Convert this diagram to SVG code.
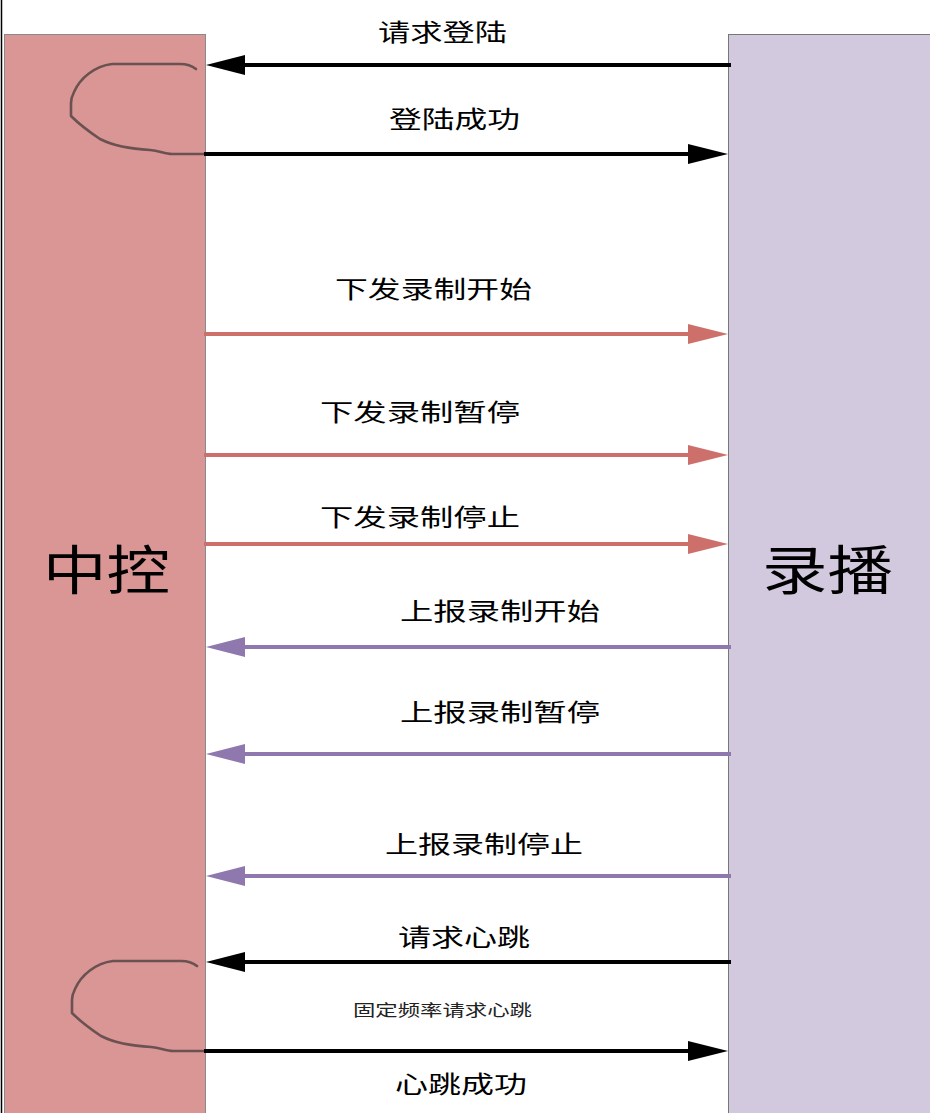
<svg xmlns="http://www.w3.org/2000/svg" width="930" height="1113" viewBox="0 0 930 1113">
<style>
.lbl{font-family:"Noto Sans CJK SC","Liberation Sans",sans-serif;font-size:24px;fill:#000}
.sm{font-family:"Noto Sans CJK SC","Liberation Sans",sans-serif;font-size:16px;fill:#222}
.big{font-family:"Noto Sans CJK SC","Liberation Sans",sans-serif;font-size:53px;fill:#000}
.blk{stroke:#000;stroke-width:4;fill:none}
.pnk{stroke:#cd706b;stroke-width:4;fill:none}
.pur{stroke:#8e78ae;stroke-width:4;fill:none}
.loop{stroke:#6b5252;stroke-width:2.6;fill:none;stroke-linejoin:round;stroke-linecap:round}
</style>
<defs>
<path id="loopPath" d="M196,69 C191,65 186,64 180,64 L112,64 C95,66 80,78 74,92 C72,96 71,99 71,103 L71,116 C78,123 88,131 100,139 C112,145 130,149 150,150 C160,151 165,154 172,154 L205,154"/>
</defs>
<rect width="930" height="1113" fill="#fff"/>
<line x1="1.5" y1="0" x2="1.5" y2="1113" stroke="#000" stroke-width="1.5"/>
<g id="node-zhongkong">
<rect x="4.5" y="34.5" width="201" height="1090" fill="#d99694" stroke="#8a8a8a" stroke-width="1"/>
<text class="big" x="43" y="590" textLength="127" lengthAdjust="spacingAndGlyphs">中控</text>
</g>
<g id="node-lubo">
<rect x="728.5" y="34.5" width="202" height="1090" fill="#d2c9de" stroke="#777" stroke-width="1"/>
<text class="big" x="762" y="590" textLength="131" lengthAdjust="spacingAndGlyphs">录播</text>
</g>
<g id="connectors">
<line class="blk" x1="731" y1="65" x2="240" y2="65"/>
<polygon points="206,65 245,55 245,75" fill="#000"/>
<use href="#loopPath" class="loop"/>
<line class="blk" x1="204" y1="154" x2="692" y2="154"/>
<polygon points="728,154 688,144 688,164" fill="#000"/>
<line class="pnk" x1="204" y1="334" x2="692" y2="334"/>
<polygon points="728,334 688,324 688,344" fill="#cd706b"/>
<line class="pnk" x1="204" y1="455" x2="692" y2="455"/>
<polygon points="728,455 688,445 688,465" fill="#cd706b"/>
<line class="pnk" x1="204" y1="544" x2="692" y2="544"/>
<polygon points="728,544 688,534 688,554" fill="#cd706b"/>
<line class="pur" x1="731" y1="647" x2="240" y2="647"/>
<polygon points="206,647 245,637 245,657" fill="#8e78ae"/>
<line class="pur" x1="731" y1="754" x2="240" y2="754"/>
<polygon points="206,754 245,744 245,764" fill="#8e78ae"/>
<line class="pur" x1="731" y1="876" x2="240" y2="876"/>
<polygon points="206,876 245,866 245,886" fill="#8e78ae"/>
<line class="blk" x1="731" y1="962" x2="240" y2="962"/>
<polygon points="206,962 245,952 245,972" fill="#000"/>
<use href="#loopPath" class="loop" transform="translate(1,897)"/>
<line class="blk" x1="204" y1="1051" x2="692" y2="1051"/>
<polygon points="728,1051 688,1041 688,1061" fill="#000"/>
</g>
<g id="labels">
<text class="lbl" x="378" y="41" textLength="129" lengthAdjust="spacingAndGlyphs">请求登陆</text>
<text class="lbl" x="389" y="128" textLength="131" lengthAdjust="spacingAndGlyphs">登陆成功</text>
<text class="lbl" x="335" y="298" textLength="197" lengthAdjust="spacingAndGlyphs">下发录制开始</text>
<text class="lbl" x="320" y="421" textLength="200" lengthAdjust="spacingAndGlyphs">下发录制暂停</text>
<text class="lbl" x="320" y="526" textLength="200" lengthAdjust="spacingAndGlyphs">下发录制停止</text>
<text class="lbl" x="400" y="620" textLength="200" lengthAdjust="spacingAndGlyphs">上报录制开始</text>
<text class="lbl" x="400" y="721" textLength="200" lengthAdjust="spacingAndGlyphs">上报录制暂停</text>
<text class="lbl" x="385" y="853" textLength="198" lengthAdjust="spacingAndGlyphs">上报录制停止</text>
<text class="lbl" x="398" y="946" textLength="132" lengthAdjust="spacingAndGlyphs">请求心跳</text>
<text class="sm" x="353" y="1016" textLength="179" lengthAdjust="spacingAndGlyphs">固定频率请求心跳</text>
<text class="lbl" x="395" y="1093" textLength="132" lengthAdjust="spacingAndGlyphs">心跳成功</text>
</g>
</svg>
